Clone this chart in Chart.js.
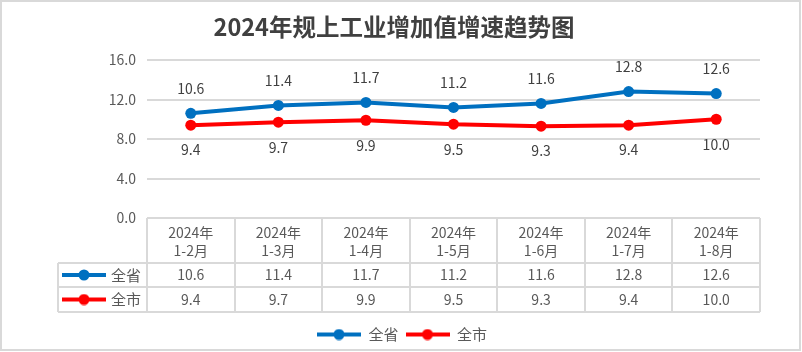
<!DOCTYPE html>
<html lang="zh">
<head>
<meta charset="UTF-8">
<title>2024年规上工业增加值增速趋势图</title>
<script src="https://cdn.jsdelivr.net/npm/chart.js"></script>
<style>
  body { margin: 0; background: #fff; }
</style>
</head>
<body>
<canvas id="chart" width="802" height="352"></canvas>
<script>
// donnees
const periodes = [['2024年', '1-2月'], ['2024年', '1-3月'], ['2024年', '1-4月'], ['2024年', '1-5月'],
                  ['2024年', '1-6月'], ['2024年', '1-7月'], ['2024年', '1-8月']];
const seriesNoms = ['全省', '全市'];
const quanSheng = [10.6, 11.4, 11.7, 11.2, 11.6, 12.8, 12.6];
const quanShi = [9.4, 9.7, 9.9, 9.5, 9.3, 9.4, 10.0];
const yTicks = [0, 4, 8, 12, 16];
const titre = '2024年规上工业增加值增速趋势图';

const FONT = '"Noto Sans CJK SC", "Microsoft YaHei", sans-serif';
const BLEU = '#0070C0';
const ROUGE = '#FF0000';
const GRIS = '#d9d9d9';

function faireIcone(couleur) {
    let c = document.createElement('canvas');
    c.width = 44;
    c.height = 12;
    let g = c.getContext('2d');
    g.strokeStyle = couleur;
    g.lineWidth = 4;
    g.beginPath();
    g.moveTo(0, 6);
    g.lineTo(44, 6);
    g.stroke();
    g.fillStyle = couleur;
    g.beginPath();
    g.arc(22, 6, 5.5, 0, Math.PI * 2);
    g.fill();
    return c;
}
const icones = [faireIcone(BLEU), faireIcone(ROUGE)];

// cadre + titre
const cadrePlugin = {
    id: 'cadre',
    beforeDraw(chart) {
        const ctx = chart.ctx;
        ctx.save();
        ctx.fillStyle = '#fff';
        ctx.fillRect(0, 0, chart.width, chart.height);
        ctx.restore();
    },
    afterDraw(chart) {
        const ctx = chart.ctx;
        ctx.save();
        ctx.strokeStyle = GRIS;
        ctx.lineWidth = 2;
        ctx.strokeRect(1, 1, 799, 349);
        ctx.fillStyle = '#404040';
        ctx.font = 'bold 23.5px ' + FONT;
        ctx.textAlign = 'center';
        ctx.textBaseline = 'middle';
        ctx.fillText(titre, 394, 27);
        ctx.restore();
    }
};

// etiquettes des valeurs
const etiquettesPlugin = {
    id: 'etiquettes',
    afterDatasetsDraw(chart) {
        const ctx = chart.ctx;
        ctx.save();
        ctx.font = '14px ' + FONT;
        ctx.fillStyle = '#404040';
        ctx.textAlign = 'center';
        ctx.textBaseline = 'middle';
        chart.data.datasets.forEach((ds, i) => {
            const meta = chart.getDatasetMeta(i);
            meta.data.forEach((pt, j) => {
                const dy = i === 0 ? -25 : 25;
                ctx.fillText(ds.data[j].toFixed(1), pt.x, pt.y + dy);
            });
        });
        ctx.restore();
    }
};

// tableau de donnees sous l'axe
const tableauPlugin = {
    id: 'tableau',
    afterDraw(chart) {
        const ctx = chart.ctx;
        const x = chart.scales.x;
        const area = chart.chartArea;
        const largeur = (area.right - area.left) / periodes.length;
        const haut = area.bottom;
        const l1 = haut + 45, l2 = l1 + 24, l3 = l2 + 25;
        const gauche = 58;

        ctx.save();
        ctx.strokeStyle = GRIS;
        ctx.lineWidth = 2;
        ctx.beginPath();
        for (let k = 0; k <= periodes.length; k++) {
            const px = Math.round(area.left + k * largeur);
            ctx.moveTo(px, haut);
            ctx.lineTo(px, l3);
        }
        ctx.moveTo(gauche, l1);
        ctx.lineTo(gauche, l3);
        [l1, l2, l3].forEach(yy => {
            ctx.moveTo(gauche, yy);
            ctx.lineTo(area.right, yy);
        });
        ctx.stroke();

        ctx.font = '14px ' + FONT;
        ctx.fillStyle = '#595959';
        ctx.textAlign = 'center';
        ctx.textBaseline = 'middle';
        periodes.forEach((p, i) => {
            const cx = x.getPixelForValue(i);
            ctx.fillText(p[0], cx, haut + 15);
            ctx.fillText(p[1], cx, haut + 33);
            ctx.fillText(quanSheng[i].toFixed(1), cx, (l1 + l2) / 2);
            ctx.fillText(quanShi[i].toFixed(1), cx, (l2 + l3) / 2);
        });

        ctx.font = '15px ' + FONT;
        ctx.textAlign = 'left';
        [[l1, l2], [l2, l3]].forEach((r, i) => {
            const cy = (r[0] + r[1]) / 2;
            ctx.drawImage(icones[i], 62, cy - 6);
            ctx.fillText(seriesNoms[i], 111, cy);
        });
        ctx.restore();
    }
};

const ctx = document.getElementById('chart').getContext('2d');
const graphique = new Chart(ctx, {
    type: 'line',
    data: {
        labels: periodes,
        datasets: [{
            label: seriesNoms[0],
            data: quanSheng,
            borderColor: BLEU,
            backgroundColor: BLEU,
            borderWidth: 4,
            pointRadius: 5.5,
            pointBorderWidth: 0,
            pointBackgroundColor: BLEU,
            tension: 0
        }, {
            label: seriesNoms[1],
            data: quanShi,
            borderColor: ROUGE,
            backgroundColor: ROUGE,
            borderWidth: 4,
            pointRadius: 5.5,
            pointBorderWidth: 0,
            pointBackgroundColor: ROUGE,
            tension: 0
        }]
    },
    options: {
        responsive: false,
        animation: false,
        devicePixelRatio: 1,
        layout: { padding: { left: 44, right: 42, top: 60, bottom: 0 } },
        plugins: {
            title: { display: false },
            tooltip: { enabled: false },
            legend: {
                position: 'bottom',
                labels: {
                    usePointStyle: true,
                    pointStyleWidth: 44,
                    boxHeight: 12,
                    padding: 7,
                    color: '#595959',
                    font: { family: FONT, size: 15 },
                    generateLabels(chart) {
                        const items = Chart.defaults.plugins.legend.labels.generateLabels(chart);
                        items.forEach((it, i) => { it.pointStyle = icones[i]; });
                        return items;
                    }
                }
            }
        },
        scales: {
            x: {
                offset: true,
                ticks: { display: false },
                grid: { display: false },
                border: { display: false },
                afterFit(s) { s.height = 102; }
            },
            y: {
                min: 0,
                max: 16,
                afterBuildTicks(s) { s.ticks = yTicks.map(v => ({ value: v })); },
                ticks: {
                    padding: 11,
                    color: '#595959',
                    font: { family: FONT, size: 14 },
                    callback: v => v.toFixed(1)
                },
                grid: { color: GRIS, lineWidth: 2, drawTicks: false },
                border: { display: false },
                afterFit(s) { s.width = 103; }
            }
        }
    },
    plugins: [cadrePlugin, etiquettesPlugin, tableauPlugin]
});
</script>
</body>
</html>
